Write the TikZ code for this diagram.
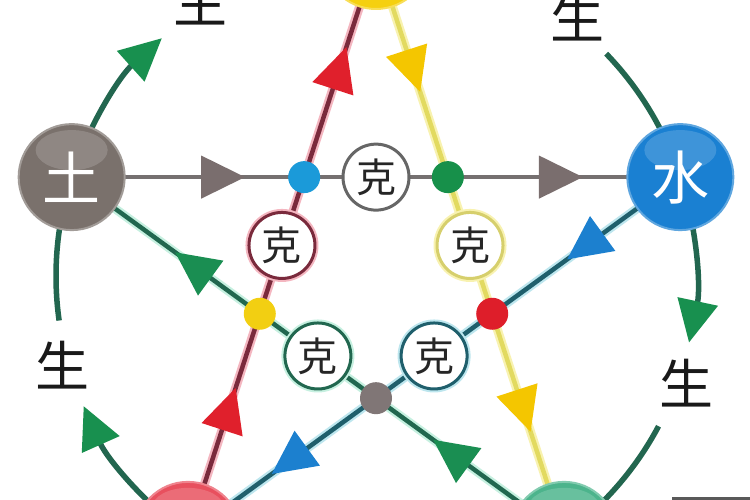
\documentclass[tikz,border=0pt]{standalone}
\usepackage{fontspec}
\newfontfamily\cjk{Noto Sans CJK SC}
\usetikzlibrary{arrows.meta,decorations.markings,calc}
\pgfdeclarelayer{back}
\pgfdeclarelayer{bg}
\pgfsetlayers{back,bg,main}
\definecolor{tuC}{HTML}{7A716C}
\definecolor{shuiC}{HTML}{1A80D2}
\definecolor{jinC}{HTML}{F5D010}
\definecolor{huoC}{HTML}{E8505E}
\definecolor{muC}{HTML}{4CB48C}
\definecolor{grayLine}{HTML}{757070}
\definecolor{grayArrow}{HTML}{7A6E6E}
\definecolor{redLine}{HTML}{7A2A3C}
\definecolor{redHalo}{HTML}{F4B6C0}
\definecolor{redArrow}{HTML}{E0202C}
\definecolor{yelLine}{HTML}{E2DA60}
\definecolor{yelHalo}{HTML}{F8F2B0}
\definecolor{yelArrow}{HTML}{F4C600}
\definecolor{grnLine}{HTML}{21674F}
\definecolor{grnHalo}{HTML}{C6F0E0}
\definecolor{grnArrow}{HTML}{1A8E52}
\definecolor{bluLine}{HTML}{1F5F6C}
\definecolor{bluHalo}{HTML}{BDE6EE}
\definecolor{bluArrow}{HTML}{1C80CF}
\definecolor{shengLine}{HTML}{22664F}
\definecolor{shengArrow}{HTML}{18904F}
\definecolor{dBlue}{HTML}{1B9AD9}
\definecolor{dGreen}{HTML}{17904A}
\definecolor{dRed}{HTML}{DE1E2A}
\definecolor{dGray}{HTML}{807676}
\definecolor{dYellow}{HTML}{F2CF12}
\definecolor{keGray}{HTML}{666666}
\definecolor{keYel}{HTML}{D6CF6C}
\tikzset{
  elem/.style={circle, minimum size=106pt, inner sep=0pt, text=white,
    font=\cjk\fontsize{58}{58}\selectfont, fill=#1, draw=#1!70!white, line width=2pt,
    path picture={\fill[white, opacity=0.16] ([yshift=-26pt]path picture bounding box.north) ellipse [x radius=36pt, y radius=20pt];}},
  kebox/.style={circle, minimum size=66pt, inner sep=0pt, fill=white, line width=3pt,
    draw=#1, text=black!85, font=\cjk\fontsize{40}{40}\selectfont},
  dotnode/.style={circle, minimum size=32pt, inner sep=0pt, fill=#1},
  shenglabel/.style={text=black!90, font=\cjk\fontsize{54}{54}\selectfont, inner sep=0pt},
  shengarc/.style={draw=shengLine, line width=5.5pt},
  shengtip/.style={-{Triangle[length=42pt,width=40pt,color=shengArrow]}},
  kline/.style n args={5}{draw=#1, line width=4.5pt, preaction={draw=#2,line width=9pt},
    postaction={decorate, decoration={markings,
      mark=at position #4 with {\arrow{Triangle[length=44pt,width=42pt,color=#3]}},
      mark=at position #5 with {\arrow{Triangle[length=44pt,width=42pt,color=#3]}}}}},
}
\begin{document}
\begin{tikzpicture}[x=1pt,y=1pt]
\useasboundingbox (0,0) rectangle (750,500);
\begin{pgfonlayer}{back}
\fill[white] (0,0) rectangle (750,500);
\fill[black!65] (672,0) rectangle (750,3);
\end{pgfonlayer}
\coordinate (O) at (376,224);
% element nodes
\node[elem=jinC] (jin) at ([shift={(90:320)}]O) {};
\node[elem=tuC] (tu) at ([shift={(162:320)}]O) {土};
\node[elem=shuiC] (shui) at ([shift={(18:320)}]O) {水};
\node[elem=huoC] (huo) at ([shift={(234:320)}]O) {};
\node[elem=muC] (mu) at ([shift={(306:320)}]O) {};
% intersection dots
\node[dotnode=dBlue] (d1) at ([shift={(126:122.2)}]O) {};
\node[dotnode=dGreen] (d2) at ([shift={(54:122.2)}]O) {};
\node[dotnode=dRed] (d3) at ([shift={(-18:122.2)}]O) {};
\node[dotnode=dGray] (d4) at ([shift={(-90:122.2)}]O) {};
\node[dotnode=dYellow] (d5) at ([shift={(198:122.2)}]O) {};
% ke circles
\node[kebox=keGray] (k1) at ($(d1)!0.5!(d2)$) {克};
\node[kebox=keYel, preaction={draw=yelHalo, line width=7pt}] (k2) at ($(d2)!0.5!(d3)$) {克};
\node[kebox=bluLine, preaction={draw=bluHalo, line width=7pt}] (k3) at ($(d3)!0.5!(d4)$) {克};
\node[kebox=grnLine, preaction={draw=grnHalo, line width=7pt}] (k4) at ($(d4)!0.5!(d5)$) {克};
\node[kebox=redLine, preaction={draw=redHalo, line width=7pt}] (k5) at ($(d5)!0.5!(d1)$) {克};
% sheng labels
\node[shenglabel] (s1) at ([shift={(122.5:326)}]O) {生};
\node[shenglabel] (s2) at ([shift={(52:328)}]O) {生};
\node[shenglabel] (s3) at ([shift={(-19:328)}]O) {生};
\node[shenglabel] (s4) at ([shift={(195.8:326)}]O) {生};
\coordinate (r2) at ([shift={(44:320)}]O);
\coordinate (r3) at ([shift={(-28:320)}]O);
\coordinate (r5) at ([shift={(188:320)}]O);
\begin{pgfonlayer}{bg}
% ke lines
\draw[kline={grayLine}{white}{grayArrow}{0.285}{0.84}] (tu.center) -- (shui.center);
\draw[kline={redLine}{redHalo}{redArrow}{0.254}{0.843}] (huo.center) -- (jin.center);
\draw[kline={yelLine}{yelHalo}{yelArrow}{0.235}{0.822}] (jin.center) -- (mu.center);
\draw[kline={grnLine}{grnHalo}{grnArrow}{0.266}{0.79}] (mu.center) -- (tu.center);
\draw[kline={bluLine}{bluHalo}{bluArrow}{0.23}{0.83}] (shui.center) -- (huo.center);
% sheng arcs
\draw[shengarc, shengtip] (tu.center) arc[start angle=162, end angle=132, radius=320pt];
\draw[shengarc] (r2) arc[start angle=44, end angle=18, radius=320pt];
\draw[shengarc, shengtip] (shui.center) arc[start angle=18, end angle=-12, radius=320pt];
\draw[shengarc] (r3) arc[start angle=-28, end angle=-54, radius=320pt];
\draw[shengarc, shengtip] (huo.center) arc[start angle=234, end angle=204, radius=320pt];
\draw[shengarc] (r5) arc[start angle=188, end angle=162, radius=320pt];
\end{pgfonlayer}
\end{tikzpicture}
\end{document}
